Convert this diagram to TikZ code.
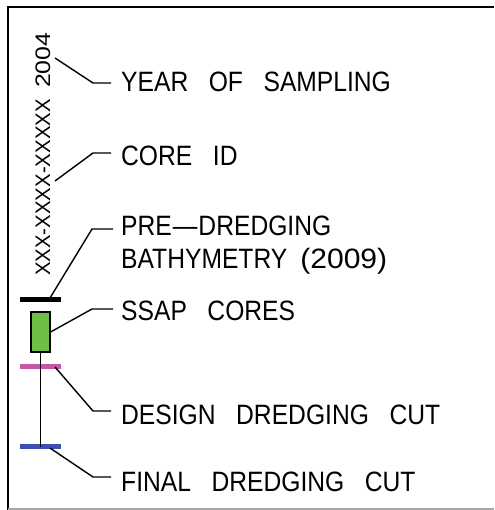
\documentclass[tikz,border=0pt]{standalone}
\usepackage{fontspec}
\setmainfont{Liberation Sans}[FakeStretch=0.88,WordSpace=3]
\newfontfamily\vfont{Liberation Sans}[FakeStretch=0.97,WordSpace=2]
\newcommand{\widedig}[1]{\scalebox{1.22}[1]{#1}}
\definecolor{coregreen}{RGB}{110,190,70}
\definecolor{designpink}{RGB}{200,85,170}
\definecolor{finalblue}{RGB}{60,80,180}
\begin{document}
\begin{tikzpicture}[x=1pt,y=-1pt,
  lbl/.style={anchor=base west,inner sep=0pt,font=\fontsize{28}{32}\selectfont},
  leader/.style={line width=1.4pt,black},
  bar/.style={minimum width=41pt,minimum height=5pt,inner sep=0pt,draw=none}]
\useasboundingbox (0,0) rectangle (494,510);
% frame
\draw[line width=2pt] (494,7) -- (8,7) -- (8,510);
\draw[line width=1.5pt,gray!70] (8,509) -- (494,509);
% stack
\node[bar,fill=black] (pre) at (40.5,299) {};
\node[draw=black,line width=1.2pt,fill=coregreen,minimum width=19pt,minimum height=40pt,inner sep=0pt] (core) at (40.5,332) {};
\node[bar,fill=designpink] (design) at (40.5,366) {};
\node[bar,fill=finalblue] (final) at (40.5,446.5) {};
\draw[line width=1.4pt] (core.south) -- (final.center);
% vertical id text
\node[rotate=90,anchor=west,inner sep=0pt,font=\vfont\fontsize{21}{24}\selectfont] (id) at (43,276) {XXX-XXXX-XXXXX \widedig{2004}};
% labels
\node[lbl] (year) at (121,92) {YEAR OF SAMPLING};
\node[lbl] (coreid) at (121,166) {CORE ID};
\node[lbl] (pred1) at (121,236) {PRE\hspace{1pt}\textemdash\hspace{1pt}DREDGING};
\node[lbl] (pred2) at (121,268) {BATHYMETRY\hspace{13pt}\widedig{(2009)}};
\node[lbl] (ssap) at (121,320) {SSAP CORES};
\node[lbl] (ddc) at (121,424) {DESIGN DREDGING CUT};
\node[lbl] (fdc) at (121,491) {FINAL DREDGING CUT};
% leader coordinates
\coordinate (yS) at (55,58);  \coordinate (yB) at (93,83);  \coordinate (yE) at (111,83);
\coordinate (cS) at (55,181); \coordinate (cB) at (93,153); \coordinate (cE) at (111,153);
\coordinate (pS) at (50,298); \coordinate (pB) at (92,229); \coordinate (pE) at (113,229);
\coordinate (sB) at (92,309); \coordinate (sE) at (113,309);
\coordinate (dS) at (55,367); \coordinate (dB) at (93,411); \coordinate (dE) at (111,411);
\coordinate (fS) at (50,448); \coordinate (fB) at (93,477); \coordinate (fE) at (111,477);
\draw[leader] (yS) -- (yB) -- (yE);
\draw[leader] (cS) -- (cB) -- (cE);
\draw[leader] (pS) -- (pB) -- (pE);
\draw[leader] (core.east |- 0,332) -- (sB) -- (sE);
\draw[leader] (dS) -- (dB) -- (dE);
\draw[leader] (fS) -- (fB) -- (fE);
\end{tikzpicture}
\end{document}
